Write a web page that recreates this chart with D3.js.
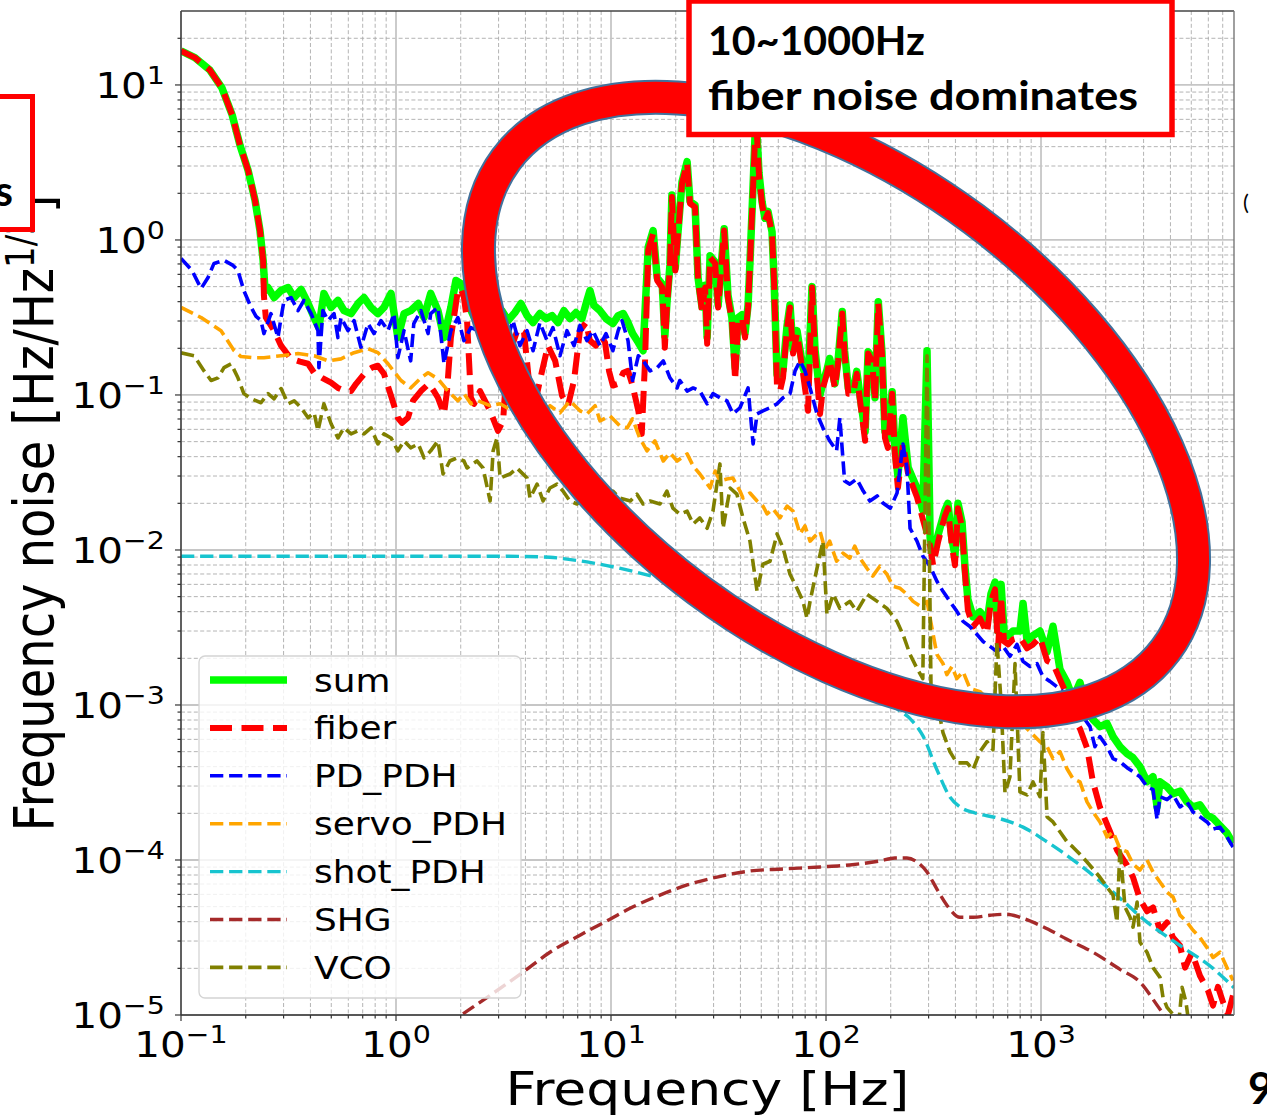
<!DOCTYPE html>
<meta charset="utf-8">
<head>
  <title>Frequency noise budget</title>
  <script src="https://d3js.org/d3.v7.min.js"></script>
  <style>
    body { margin: 0; background: #fff; }
    svg { display: block; }
    text { font-family: "DejaVu Sans", sans-serif; fill: #000; }
  </style>
</head>
<body>
<div id="display"></div>
<script>
// ---- data: [frequency Hz, noise Hz/Hz^1/2] ----
var sum = [
  [0.1,16.6],[0.116,15.0],[0.136,12.5],[0.155,9.57],[0.173,6.40],[0.188,4.09],[0.205,2.82],[0.221,1.80],[0.233,1.15],[0.241,0.738],
  [0.246,0.472],[0.254,0.493],[0.271,0.425],[0.292,0.472],[0.315,0.493],[0.336,0.425],[0.362,0.479],[0.390,0.389],[0.416,0.316],[0.438,0.272],
  [0.462,0.452],[0.499,0.367],[0.537,0.407],[0.573,0.350],[0.618,0.335],[0.666,0.389],[0.710,0.425],[0.765,0.367],[0.824,0.335],[0.879,0.367],
  [0.948,0.452],[1.02,0.2345],[1.09,0.335],[1.17,0.350],[1.27,0.389],[1.35,0.316],[1.45,0.452],[1.567,0.350],[1.672,0.2345],[1.80,0.367],
  [1.90,0.548],[2.00,0.524],[2.16,0.389],[2.31,0.316],[2.49,0.289],[2.68,0.325],[2.89,0.378],[3.11,0.350],[3.32,0.302],[3.57,0.340],
  [3.81,0.389],[4.07,0.325],[4.34,0.293],[4.67,0.335],[4.99,0.311],[5.32,0.325],[5.67,0.293],[6.04,0.350],[6.44,0.311],[6.87,0.340],
  [7.33,0.311],[7.73,0.407],[7.98,0.472],[8.33,0.378],[8.89,0.350],[9.48,0.311],[10.2,0.289],[10.8,0.325],[11.4,0.335],[12.0,0.293],
  [12.6,0.249],[13.4,0.218],[14.1,0.193],[14.9,0.90],[15.7,1.15],[16.4,0.57],[17.3,0.52],[17.8,0.24],[18.2,0.39],[18.8,0.69],
  [19.2,1.95],[19.9,0.66],[20.5,1.13],[21.4,2.38],[22.6,3.2],[23.3,1.77],[24.6,1.68],[25.4,0.57],[26.5,0.37],[27.4,0.51],
  [28.0,0.235],[28.9,0.79],[30.5,0.72],[31.5,0.38],[33.6,1.18],[35.0,0.44],[36.5,0.315],[37.8,0.15],[39.0,0.315],[40.7,0.33],
  [42.0,0.25],[43.4,0.38],[44.3,0.72],[45.8,2.25],[47.2,6.5],[48.8,2.7],[50.4,1.77],[52.0,1.38],[53.7,1.53],[56.1,1.13],
  [57.3,0.57],[59.2,0.135],[61.1,0.13],[63.1,0.145],[65.9,0.28],[68.0,0.38],[70.3,0.195],[73.3,0.26],[75.7,0.195],[78.2,0.15],
  [82.5,0.12],[86.1,0.5],[88.9,0.195],[93.8,0.10],[96.8,0.12],[101,0.145],[104,0.172],[110,0.118],[114,0.172],[119,0.345],
  [122,0.192],[127,0.11],[134,0.108],[139,0.142],[144,0.098],[152,0.058],[157,0.19],[164,0.172],[169,0.096],[175,0.40],
  [182,0.19],[188,0.058],[194,0.052],[203,0.105],[209,0.047],[216,0.030],[228,0.0712],[241,0.034],[265,0.025],[282,0.018],
  [295,0.193],[305,0.012],[315,0.0095],[332,0.0125],[357,0.018],[369,0.020],[385,0.0118],[398,0.0092],[411,0.020],[429,0.0152],
  [443,0.0078],[457,0.0048],[483,0.0037],[520,0.0040],[561,0.0034],[585,0.0052],[611,0.0062],[631,0.0030],[652,0.0060],[673,0.0030],
  [703,0.0028],[741,0.0030],[798,0.0030],[825,0.00452],[861,0.0026],[918,0.0028],[989,0.0030],[1067,0.0022],[1137,0.00322],[1225,0.0017],
  [1321,0.0014],[1409,0.0011],[1518,0.0014],[1637,0.000906],[1745,0.000805],[1880,0.000725],[2028,0.00076],[2163,0.000625],[2330,0.000538],[2512,0.000485],
  [2679,0.000457],[2886,0.0004],[3112,0.00032],[3319,0.000345],[3467,0.00022],[3575,0.00032],[3855,0.000297],[4111,0.000268],[4429,0.000278],[4776,0.000237],
  [5093,0.00022],[5486,0.000227],[5916,0.000195],[6310,0.000186],[6796,0.000167],[7330,0.000149],[7816,0.000128]
];

var fiber = [
  [0.1,16.6],[0.116,15.0],[0.136,12.5],[0.155,9.57],[0.173,6.40],[0.188,4.09],[0.205,2.82],[0.221,1.80],[0.233,1.15],[0.241,0.738],
  [0.243,0.438],[0.248,0.316],[0.271,0.260],[0.292,0.208],[0.325,0.171],[0.358,0.164],[0.390,0.159],[0.416,0.139],[0.453,0.129],[0.499,0.120],
  [0.537,0.111],[0.579,0.106],[0.618,0.106],[0.652,0.118],[0.687,0.129],[0.733,0.1435],[0.773,0.150],[0.824,0.1545],[0.879,0.137],[0.948,0.0988],
  [1.02,0.0713],[1.066,0.0661],[1.137,0.0713],[1.20,0.0918],[1.306,0.106],[1.42,0.118],[1.50,0.106],[1.567,0.096],[1.672,0.0755],[1.727,0.106],
  [1.80,0.2345],[1.88,0.351],[1.94,0.472],[2.00,0.486],[2.07,0.425],[2.14,0.302],[2.23,0.096],[2.31,0.0877],[2.46,0.106],[2.74,0.079],
  [2.98,0.0587],[3.15,0.0681],[3.28,0.166],[3.47,0.208],[3.69,0.268],[3.94,0.253],[4.20,0.106],[4.48,0.0945],[4.78,0.143],[5.09,0.208],
  [5.50,0.166],[5.92,0.0988],[6.31,0.0853],[6.73,0.124],[7.17,0.260],[7.65,0.293],[7.98,0.224],[8.51,0.208],[8.98,0.2415],[9.38,0.218],
  [9.79,0.143],[10.2,0.115],[10.8,0.118],[11.4,0.139],[12.0,0.143],[12.6,0.115],[13.4,0.079],[13.9,0.0561],[14.4,0.166],[14.9,0.857],
  [15.7,1.10],[16.4,0.548],[17.3,0.493],[17.8,0.202],[18.2,0.367],[18.8,0.665],[19.2,1.89],[19.9,0.636],[20.5,1.10],[21.4,2.32],
  [22.6,3.13],[23.3,1.72],[24.6,1.63],[25.4,0.548],[26.5,0.350],[27.4,0.493],[28.0,0.214],[28.9,0.771],[30.5,0.706],[31.5,0.367],
  [33.6,1.15],[35.0,0.425],[36.5,0.302],[37.8,0.124],[39.0,0.302],[40.7,0.316],[42.0,0.2345],[43.4,0.367],[44.3,0.706],[45.8,2.19],
  [47.2,6.39],[48.8,2.62],[50.4,1.72],[52.0,1.34],[53.7,1.49],[56.1,1.10],[57.3,0.548],[59.2,0.111],[61.1,0.106],[63.1,0.129],
  [65.9,0.271],[68.0,0.367],[70.3,0.185],[73.3,0.249],[75.7,0.185],[78.2,0.137],[82.5,0.079],[86.1,0.493],[88.9,0.185],[93.8,0.0755],
  [96.8,0.111],[101,0.137],[104,0.166],[110,0.111],[114,0.166],[119,0.335],[122,0.185],[127,0.102],[134,0.102],[139,0.137],
  [144,0.0917],[152,0.0506],[157,0.185],[164,0.166],[169,0.0917],[175,0.388],[182,0.185],[188,0.0528],[194,0.0456],[203,0.102],
  [209,0.0417],[216,0.0251],[228,0.0483],[241,0.0309],[265,0.0219],[282,0.0158],[305,0.0106],[315,0.00798],[332,0.01125],[357,0.01655],
  [369,0.0186],[385,0.0106],[398,0.00798],[411,0.0186],[429,0.0140],[443,0.00708],[457,0.00408],[483,0.00321],[520,0.00362],[561,0.0029],
  [585,0.00466],[611,0.00557],[631,0.00232],[652,0.00503],[673,0.00257],[703,0.00246],[741,0.00265],[798,0.00273],[861,0.00232],[918,0.00246],
  [989,0.00273],[1067,0.00193],[1137,0.00185],[1225,0.00146],[1321,0.00116],[1409,0.00084],[1518,0.000702],[1637,0.000528],[1745,0.000318],[1880,0.000219],
  [2093,0.000153],[2256,0.000116],[2512,0.0000925],[2679,0.0000774],[2886,0.0000557],[3112,0.0000467],[3319,0.0000494],[3575,0.0000351],[3855,0.0000395],[4111,0.0000316],
  [4429,0.0000281],[4677,0.0000202],[5036,0.0000253],[5486,0.0000179],[5980,0.0000144],[6310,0.0000115],[6653,0.0000152],[7025,0.0000121],[7413,0.0000101],[7816,0.0000134]
];

var pdPdh = [
  [0.1,0.760],[0.1125,0.636],[0.124,0.486],[0.1336,0.573],[0.1424,0.706],[0.1585,0.738],[0.1745,0.685],[0.184,0.636],[0.196,0.472],[0.212,0.367],
  [0.2234,0.321],[0.2355,0.302],[0.243,0.249],[0.262,0.335],[0.2825,0.2345],[0.292,0.316],[0.3015,0.407],[0.325,0.425],[0.350,0.350],[0.373,0.407],
  [0.403,0.335],[0.4335,0.260],[0.438,0.150],[0.457,0.350],[0.483,0.302],[0.515,0.335],[0.537,0.2345],[0.555,0.316],[0.598,0.260],[0.638,0.302],
  [0.687,0.202],[0.741,0.289],[0.790,0.249],[0.851,0.302],[0.918,0.260],[0.979,0.335],[1.02,0.174],[1.09,0.260],[1.17,0.166],[1.21,0.289],
  [1.306,0.350],[1.41,0.249],[1.45,0.335],[1.567,0.367],[1.672,0.159],[1.80,0.260],[1.94,0.316],[2.07,0.224],[2.23,0.272],[2.41,0.260],
  [2.59,0.302],[2.80,0.208],[3.05,0.281],[3.28,0.224],[3.50,0.302],[3.77,0.208],[4.07,0.260],[4.34,0.193],[4.67,0.293],[5.04,0.224],
  [5.37,0.272],[5.79,0.179],[6.24,0.260],[6.73,0.208],[7.17,0.281],[7.73,0.224],[8.24,0.260],[8.89,0.208],[9.48,0.249],[10.2,0.193],
  [10.8,0.260],[11.25,0.302],[12.0,0.224],[12.6,0.124],[13.4,0.179],[14.1,0.166],[15.2,0.143],[16.4,0.150],[17.5,0.166],[18.8,0.129],
  [20.3,0.111],[20.9,0.124],[22.6,0.106],[24.1,0.111],[25.9,0.106],[28.0,0.0877],[29.8,0.102],[32.1,0.096],[34.6,0.0917],[36.9,0.0755],
  [39.8,0.0827],[43.4,0.111],[45.8,0.0483],[47.8,0.0755],[50.9,0.079],[54.9,0.0827],[59.2,0.0877],[63.1,0.096],[68.0,0.102],[71.8,0.143],
  [75.7,0.166],[79.8,0.143],[84.3,0.111],[90.8,0.0755],[96.8,0.0614],[104,0.0506],[112,0.0436],[116,0.0713],[122,0.0279],[129,0.0266],
  [139,0.0287],[149,0.0240],[160,0.0207],[173,0.0223],[184,0.0201],[199,0.0186],[214,0.0233],[228,0.0483],[238,0.0338],[246,0.0138],
  [265,0.0114],[282,0.00912],[305,0.00785],[328,0.00628],[350,0.00541],[377,0.00466],[406,0.00402],[434,0.00346],[467,0.00321],[504,0.00285],
  [537,0.00257],[579,0.00239],[624,0.00221],[666,0.00239],[717,0.00206],[773,0.00246],[825,0.00191],[889,0.00177],[958,0.00185],[1021,0.00152],
  [1101,0.00142],[1187,0.00131],[1265,0.00122],[1364,0.00105],[1470,0.000977],[1567,0.00084],[1690,0.000725],[1782,0.000538],[1880,0.000625],[2028,0.000538],
  [2163,0.000451],[2330,0.000431],[2512,0.000394],[2679,0.000371],[2886,0.000344],[3112,0.000297],[3319,0.000284],[3467,0.000182],[3575,0.000256],[3855,0.000245],
  [4111,0.000264],[4429,0.00022],[4776,0.000237],[5093,0.000204],[5486,0.00019],[5916,0.000176],[6310,0.000158],[6796,0.000163],[7330,0.000141],[7816,0.000121]
];

var servoPdh = [
  [0.1,0.367],[0.124,0.316],[0.1535,0.260],[0.1766,0.193],[0.190,0.177],[0.216,0.174],[0.243,0.174],[0.292,0.179],[0.350,0.185],[0.416,0.179],
  [0.483,0.166],[0.555,0.171],[0.638,0.1875],[0.741,0.199],[0.824,0.1875],[0.918,0.159],[1.055,0.124],[1.17,0.111],[1.306,0.129],[1.41,0.139],
  [1.567,0.127],[1.746,0.106],[1.94,0.0917],[2.07,0.102],[2.23,0.0877],[2.41,0.0917],[2.74,0.0853],[3.05,0.0877],[3.47,0.079],[3.98,0.0681],
  [4.67,0.0734],[5.20,0.0853],[5.79,0.0767],[6.44,0.0917],[7.17,0.079],[7.73,0.0755],[8.43,0.0853],[8.89,0.0681],[9.89,0.0734],[11.0,0.0632],
  [11.9,0.0614],[12.6,0.0702],[13.6,0.0528],[14.7,0.0436],[16.0,0.0506],[17.5,0.0375],[18.8,0.0423],[20.3,0.0375],[22.6,0.0417],[24.1,0.0348],
  [25.9,0.0309],[28.9,0.0251],[30.5,0.0323],[32.1,0.0279],[34.6,0.0287],[36.9,0.0291],[39.8,0.0240],[41.1,0.0216],[44.3,0.0233],[47.8,0.0207],
  [50.9,0.0192],[53.2,0.0171],[56.7,0.0184],[61.1,0.0161],[65.9,0.0192],[70.3,0.0178],[75.7,0.0127],[79.8,0.0143],[84.3,0.0114],[88.9,0.0123],
  [93.8,0.0132],[98.9,0.0101],[104,0.0114],[112,0.00846],[120,0.00953],[129,0.00885],[136,0.0106],[144,0.00885],[155,0.00762],[165,0.00678],
  [178,0.00785],[192,0.00697],[205,0.00583],[221,0.00566],[238,0.00518],[254,0.00466],[274,0.00434],[295,0.00466],[315,0.00285],[328,0.00212],
  [350,0.00185],[365,0.00157],[385,0.00177],[406,0.00148],[434,0.00164],[467,0.00128],[520,0.00122],[579,0.00105],[644,0.000977],[717,0.00084],
  [798,0.000781],[889,0.000673],[989,0.00058],[1067,0.00054],[1137,0.000451],[1225,0.0005],[1321,0.000388],[1409,0.000334],[1518,0.000319],[1637,0.000237],
  [1745,0.000204],[1880,0.000176],[2028,0.000141],[2163,0.000152],[2330,0.000118],[2512,0.000113],[2679,0.000094],[2886,0.0000861],[3112,0.0001],[3319,0.0000836],
  [3575,0.0000721],[3855,0.0000621],[4111,0.0000577],[4429,0.0000441],[4776,0.0000397],[5093,0.0000352],[5486,0.0000316],[5916,0.0000272],[6310,0.0000235],[6796,0.0000254],
  [7330,0.0000202],[7816,0.0000167]
];

var shotPdh = [
  [0.1,0.00912],[0.358,0.00912],[1.04,0.00912],[3.05,0.00912],[5.20,0.00898],[6.24,0.00873],[8.89,0.00809],[12.6,0.00729],[16.9,0.00657],[32.1,0.00502],
  [61.1,0.00321],[116,0.00191],[178,0.00122],[214,0.000946],[246,0.000817],[282,0.000634],[328,0.000382],[377,0.000255],[420,0.00022],[493,0.000201],
  [624,0.000187],[825,0.000163],[1067,0.000131],[1518,0.0000927],[2163,0.0000621],[3112,0.0000397],[4429,0.0000281],[6310,0.00002],[7900,0.000015]
];

var shg = [
  [1.04,0.0000054],[1.99,0.0000099],[3.90,0.0000189],[5.20,0.0000254],[7.17,0.0000327],[9.89,0.0000415],[12.6,0.0000497],[16.9,0.0000594],[22.6,0.000069],[31.1,0.0000776],
  [44.3,0.0000849],[63.1,0.0000875],[93.8,0.0000902],[129,0.0000929],[178,0.0000986],[209,0.000103],[238,0.000103],[265,0.0000971],[295,0.0000836],[328,0.0000649],
  [365,0.0000511],[420,0.0000427],[483,0.0000427],[579,0.000044],[692,0.0000447],[798,0.0000427],[989,0.0000379],[1321,0.0000308],[1745,0.0000254],[2330,0.0000197],
  [2886,0.0000163],[3575,0.0000109],[3979,0.000009]
];

var vco = [
  [0.1,0.187],[0.115,0.179],[0.128,0.143],[0.138,0.124],[0.1486,0.129],[0.1585,0.150],[0.171,0.159],[0.184,0.129],[0.196,0.102],[0.212,0.0945],
  [0.2355,0.0891],[0.254,0.102],[0.271,0.0945],[0.292,0.110],[0.315,0.0877],[0.336,0.0917],[0.362,0.0827],[0.390,0.0713],[0.416,0.0767],[0.4335,0.0587],
  [0.462,0.0877],[0.499,0.0652],[0.537,0.0528],[0.573,0.0614],[0.618,0.0561],[0.666,0.0587],[0.710,0.0561],[0.765,0.0614],[0.824,0.0483],[0.879,0.0561],
  [0.948,0.0528],[1.02,0.0436],[1.09,0.0506],[1.17,0.0456],[1.27,0.0483],[1.35,0.0393],[1.45,0.0436],[1.567,0.0506],[1.655,0.0309],[1.78,0.0375],
  [1.92,0.0393],[2.07,0.0375],[2.14,0.0338],[2.38,0.0375],[2.54,0.0338],[2.74,0.0207],[2.83,0.0436],[2.95,0.0528],[3.05,0.0291],[3.39,0.0309],
  [3.65,0.0338],[4.07,0.0291],[4.20,0.0216],[4.53,0.0266],[4.83,0.0207],[5.20,0.0251],[5.61,0.0266],[5.98,0.0240],[6.44,0.0207],[6.95,0.0198],
  [7.57,0.0223],[8.43,0.0207],[9.38,0.0223],[10.2,0.0240],[11.0,0.0216],[12.3,0.0207],[13.2,0.0229],[14.1,0.0198],[15.2,0.0207],[16.9,0.0198],
  [18.2,0.0240],[19.4,0.0186],[20.9,0.0170],[22.6,0.0178],[24.1,0.0147],[25.9,0.0161],[28.0,0.0138],[29.8,0.0178],[32.1,0.0359],[33.2,0.0138],
  [35.8,0.0251],[38.5,0.0229],[41.1,0.0161],[44.3,0.0114],[47.8,0.00541],[50.9,0.00809],[54.9,0.00846],[59.2,0.0127],[63.1,0.0103],[68.0,0.00697],
  [73.3,0.00566],[78.2,0.00466],[81.6,0.00362],[84.3,0.00466],[90.8,0.00762],[96.8,0.0114],[101,0.00384],[108,0.00518],[116,0.0042],[129,0.00466],
  [139,0.00402],[155,0.00518],[173,0.00466],[192,0.0042],[214,0.00346],[228,0.00285],[246,0.00212],[265,0.00172],[282,0.00148],[295,0.179],
  [308,0.00122],[328,0.00105],[350,0.000664],[377,0.0005],[406,0.000423],[453,0.000423],[483,0.000382],[520,0.0005],[561,0.00058],[598,0.000514],
  [624,0.00257],[652,0.00105],[680,0.000271],[717,0.000344],[757,0.00185],[798,0.000275],[861,0.000263],[918,0.000319],[989,0.000256],[1021,0.000664],
  [1067,0.00019],[1137,0.000176],[1225,0.000152],[1321,0.000131],[1409,0.000121],[1518,0.000109],[1637,0.0000971],[1745,0.0000875],[1880,0.0000774],[2028,0.0000668],
  [2163,0.0000593],[2256,0.0000397],[2330,0.000121],[2458,0.0000497],[2593,0.0000428],[2679,0.0000369],[2799,0.0000535],[2886,0.0000295],[3112,0.0000254],[3319,0.0000202],
  [3575,0.0000175],[3693,0.000013],[3855,0.0000112],[4111,0.0000101],[4335,0.0000078],[4529,0.0000151],[4724,0.0000121],[4929,0.0000078],[5486,0.0000049]
];

var seriesNames = ["sum", "fiber", "PD_PDH", "servo_PDH", "shot_PDH", "SHG", "VCO"];
var seriesData  = [sum, fiber, pdPdh, servoPdh, shotPdh, shg, vco];

// ---- styles (matplotlib look) ----
var styles = [
  {color: "#00ff00", width: 7.5, dash: null,        smooth: false},
  {color: "#ff0000", width: 6,   dash: "22,9.5",    smooth: false},
  {color: "#0000ff", width: 3.6, dash: "13.3,5.8",  smooth: false},
  {color: "#ffa500", width: 3.6, dash: "13.3,5.8",  smooth: false},
  {color: "#17c4cf", width: 3.4, dash: "13.3,5.8",  smooth: true},
  {color: "#a52a2a", width: 3.4, dash: "13.3,5.8",  smooth: true},
  {color: "#808000", width: 3.6, dash: "13.3,5.8",  smooth: false}
];

// the figure was pasted stretched sideways, so its text is wider than tall
var stretch = 1.14;

var width = 1267, height = 1118;
var margin = {top: 11, right: 33, bottom: 103, left: 181};
var plotW = width - margin.left - margin.right,
    plotH = height - margin.top - margin.bottom;

var x = d3.scaleLog().domain([0.1, 7900]).range([0, plotW]);
var y = d3.scaleLog().domain([1e-5, 30]).range([plotH, 0]);

var svg = d3.select("#display")
  .append("svg")
    .attr("width", width)
    .attr("height", height);

svg.append("rect").attr("width", width).attr("height", height).attr("fill", "#fff");

var g = svg.append("g")
    .attr("transform", "translate(" + margin.left + "," + margin.top + ")");

g.append("clipPath").attr("id", "plotclip")
  .append("rect").attr("width", plotW).attr("height", plotH);

var isMajor = function(d) { var l = Math.log10(d); return Math.abs(l - Math.round(l)) < 1e-6; };
var xTicks = x.ticks().filter(function(d) { return d <= 7900; });
var yTicks = y.ticks().filter(function(d) { return d < 30; });

// minor grid (dashed), then major grid (solid)
var grid = g.append("g");
grid.selectAll(".xminor").data(xTicks.filter(function(d) { return !isMajor(d); }))
  .join("line")
    .attr("x1", x).attr("x2", x).attr("y1", 0).attr("y2", plotH)
    .attr("stroke", "#acacac").attr("stroke-width", 0.9).attr("stroke-dasharray", "4,2.4");
grid.selectAll(".yminor").data(yTicks.filter(function(d) { return !isMajor(d); }))
  .join("line")
    .attr("x1", 0).attr("x2", plotW).attr("y1", y).attr("y2", y)
    .attr("stroke", "#acacac").attr("stroke-width", 0.9).attr("stroke-dasharray", "4,2.4");
grid.selectAll(".xmajor").data(xTicks.filter(isMajor))
  .join("line")
    .attr("x1", x).attr("x2", x).attr("y1", 0).attr("y2", plotH)
    .attr("stroke", "#c6c6c6").attr("stroke-width", 1.8);
grid.selectAll(".ymajor").data(yTicks.filter(isMajor))
  .join("line")
    .attr("x1", 0).attr("x2", plotW).attr("y1", y).attr("y2", y)
    .attr("stroke", "#c6c6c6").attr("stroke-width", 1.8);

// curves
var lineSharp = d3.line().x(function(d) { return x(d[0]); }).y(function(d) { return y(d[1]); });
var lineSmooth = d3.line().x(function(d) { return x(d[0]); }).y(function(d) { return y(d[1]); }).curve(d3.curveMonotoneX);

var curves = g.append("g").attr("clip-path", "url(#plotclip)");
seriesData.forEach(function(data, i) {
  var s = styles[i];
  curves.append("path")
    .attr("d", (s.smooth ? lineSmooth : lineSharp)(data))
    .attr("fill", "none")
    .attr("stroke", s.color)
    .attr("stroke-width", s.width)
    .attr("stroke-linejoin", "round")
    .attr("stroke-dasharray", s.dash);
});

// spines
g.append("line").attr("x1", 0).attr("x2", 0).attr("y1", 0).attr("y2", plotH).attr("stroke", "#333").attr("stroke-width", 1.4);
g.append("line").attr("x1", 0).attr("x2", plotW).attr("y1", plotH).attr("y2", plotH).attr("stroke", "#333").attr("stroke-width", 1.4);
g.append("line").attr("x1", 0).attr("x2", plotW).attr("y1", 0).attr("y2", 0).attr("stroke", "#444").attr("stroke-width", 1.4);
g.append("line").attr("x1", plotW).attr("x2", plotW).attr("y1", 0).attr("y2", plotH).attr("stroke", "#777").attr("stroke-width", 1.4);

// ticks
g.selectAll(".ytick").data(yTicks)
  .join("line")
    .attr("x1", function(d) { return isMajor(d) ? -6 : -3.5; }).attr("x2", 0)
    .attr("y1", y).attr("y2", y)
    .attr("stroke", "#333").attr("stroke-width", 1.2);
g.selectAll(".xtick").data(xTicks)
  .join("line")
    .attr("y1", plotH).attr("y2", function(d) { return plotH + (isMajor(d) ? 6 : 3.5); })
    .attr("x1", x).attr("x2", x)
    .attr("stroke", "#333").attr("stroke-width", 1.2);

var expText = function(d) {
  var e = Math.round(Math.log10(d));
  return (e < 0 ? "\u2212" : "") + Math.abs(e);
};

var ylab = g.selectAll(".ylabel").data(yTicks.filter(isMajor))
  .join("text")
    .attr("transform", function(d) { return "translate(-16," + (y(d) + 13) + ") scale(" + stretch + ",1)"; })
    .attr("text-anchor", "end")
    .style("font-size", "35.5px");
ylab.append("tspan").text("10");
ylab.append("tspan").attr("dy", -14).style("font-size", "25px").text(expText);

var xlab = g.selectAll(".xlabel").data(xTicks.filter(isMajor))
  .join("text")
    .attr("transform", function(d) { return "translate(" + x(d) + "," + (plotH + 42) + ") scale(" + stretch + ",1)"; })
    .attr("text-anchor", "middle")
    .style("font-size", "35.5px");
xlab.append("tspan").text("10");
xlab.append("tspan").attr("dy", -14).style("font-size", "25px").text(expText);

// axis titles
svg.append("text")
  .attr("transform", "translate(" + (margin.left + plotW / 2) + ",1105) scale(" + stretch + ",1)")
  .attr("text-anchor", "middle")
  .style("font-size", "47px")
  .text("Frequency [Hz]");

var yTitle = svg.append("text")
  .attr("transform", "translate(53," + (margin.top + plotH / 2) + ") scale(" + stretch + ",1) rotate(-90)")
  .attr("text-anchor", "middle")
  .style("font-size", "48px");
yTitle.append("tspan").text("Frequency noise [Hz/Hz");
yTitle.append("tspan").attr("dy", -17).style("font-size", "34px").text("1/2");
yTitle.append("tspan").attr("dy", 17).text("]");

// legend
var legend = svg.append("g");
legend.append("rect")
  .attr("x", 199).attr("y", 656).attr("width", 322).attr("height", 342)
  .attr("rx", 6)
  .attr("fill", "#fff").attr("fill-opacity", 0.8)
  .attr("stroke", "#d4d4d4").attr("stroke-width", 1.3);
var items = legend.selectAll(".item").data(seriesNames)
  .join("g")
    .attr("transform", function(d, i) { return "translate(0," + (680 + i * 47.9) + ")"; });
items.append("line")
  .attr("x1", 210).attr("x2", 287)
  .attr("stroke", function(d, i) { return styles[i].color; })
  .attr("stroke-width", function(d, i) { return styles[i].width; })
  .attr("stroke-dasharray", function(d, i) { return styles[i].dash; });
items.append("text")
  .attr("transform", "translate(314,11.5) scale(" + stretch + ",1)")
  .style("font-size", "31.5px")
  .text(function(d) { return d; });

// annotation: ring
var ring = svg.append("g").attr("transform", "rotate(36.6,836,404.5)");
ring.append("ellipse").attr("cx", 836).attr("cy", 404.5).attr("rx", 411).attr("ry", 231)
  .attr("fill", "none").attr("stroke", "#41719c").attr("stroke-width", 35);
ring.append("ellipse").attr("cx", 836).attr("cy", 404.5).attr("rx", 411).attr("ry", 231)
  .attr("fill", "none").attr("stroke", "#ff0000").attr("stroke-width", 31);

// annotation: text boxes
svg.append("rect").attr("x", 689).attr("y", 1).attr("width", 483).attr("height", 133.5)
  .attr("fill", "#fff").attr("stroke", "#ff0000").attr("stroke-width", 5.5);
var note = svg.append("text")
  .style("font-family", "Lato, 'Open Sans', sans-serif")
  .style("font-weight", "bold")
  .style("font-size", "40px");
note.append("tspan").attr("x", 708).attr("y", 55)
  .attr("textLength", 217).attr("lengthAdjust", "spacingAndGlyphs").text("10~1000Hz");
note.append("tspan").attr("x", 708).attr("y", 110)
  .attr("textLength", 430).attr("lengthAdjust", "spacingAndGlyphs").text("fiber noise dominates");

svg.append("rect").attr("x", -20).attr("y", 96.5).attr("width", 52.5).attr("height", 133)
  .attr("fill", "#fff").attr("stroke", "#ff0000").attr("stroke-width", 5);
svg.append("text")
  .attr("x", 13).attr("y", 206)
  .attr("text-anchor", "end")
  .style("font-family", "Lato, sans-serif").style("font-weight", "bold").style("font-size", "42px")
  .text("s");

// cut-off bits at the right edge of the slide
svg.append("text")
  .attr("x", 1243).attr("y", 210)
  .style("font-family", "Lato, sans-serif").style("font-size", "22px")
  .text("(");
svg.append("text")
  .attr("x", 1248).attr("y", 1104)
  .style("font-family", "Lato, sans-serif").style("font-weight", "bold").style("font-size", "44px")
  .text("9");
</script>
</body>
